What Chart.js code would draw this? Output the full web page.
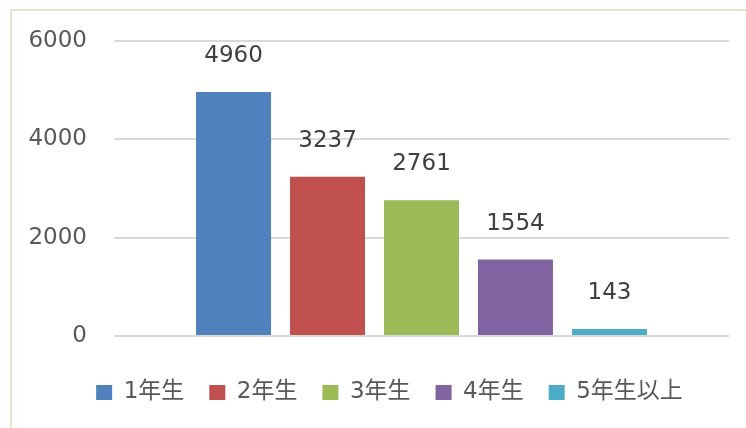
<!DOCTYPE html>
<html>
<head>
<meta charset="utf-8">
<script src="https://cdn.jsdelivr.net/npm/chart.js@4/dist/chart.umd.min.js"></script>
<style>
  html, body { margin: 0; padding: 0; background: #ffffff; overflow: hidden; width: 746px; height: 428px; }
  #frame { position: absolute; left: 10px; top: 9px; width: 800px; height: 500px;
           border-left: 2px solid #e8e1cb; border-top: 2px solid #e8e1cb; box-sizing: border-box; }
  #wrap { position: absolute; left: 0; top: 0; width: 746px; height: 428px; }
</style>
</head>
<body>
<div id="frame"></div>
<div id="wrap"><canvas id="c" width="746" height="428"></canvas></div>
<script>
const categories = ['1年生', '2年生', '3年生', '4年生', '5年生以上'];
const values = [4960, 3237, 2761, 1554, 143];
const colors = ['#4f81bd', '#c0504d', '#9bbb59', '#8064a2', '#4bacc6'];
const yTicks = [0, 2000, 4000, 6000];

const datasets = categories.map((name, i) => ({
  label: name,
  data: [values[i]],
  backgroundColor: colors[i],
  borderWidth: 0,
  categoryPercentage: 0.764,
  barPercentage: 0.798
}));

const valueLabels = {
  id: 'valueLabels',
  afterDatasetsDraw(chart) {
    const ctx = chart.ctx;
    ctx.save();
    ctx.font = '23px "DejaVu Sans"';
    ctx.fillStyle = '#404040';
    ctx.textAlign = 'center';
    ctx.textBaseline = 'middle';
    chart.data.datasets.forEach((ds, i) => {
      const el = chart.getDatasetMeta(i).data[0];
      ctx.fillText(String(ds.data[0]), el.x, el.y - 36);
    });
    ctx.restore();
  }
};

// shift the legend box to the right so it is centred like the original
const legendShift = {
  id: 'legendShift',
  afterLayout(chart) {
    const lg = chart.legend;
    if (lg) { lg.left += 25; lg.right += 25; }
  }
};

new Chart(document.getElementById('c'), {
  type: 'bar',
  data: { labels: [''], datasets },
  plugins: [valueLabels, legendShift],
  options: {
    responsive: false,
    animation: false,
    layout: { padding: { top: 40, right: 17, left: 0, bottom: 14 } },
    plugins: {
      title: { display: false },
      tooltip: { enabled: false },
      legend: {
        position: 'bottom',
        labels: {
          boxWidth: 16,
          boxHeight: 15,
          padding: 25,
          color: '#595959',
          font: { family: '"DejaVu Sans", "Noto Sans CJK JP"', size: 23 }
        }
      }
    },
    scales: {
      x: {
        display: true,
        grid: { display: false, drawTicks: false },
        border: { display: false },
        ticks: { display: false },
        afterFit(scale) { scale.height = 20; }
      },
      y: {
        min: 0, max: 6000,
        afterBuildTicks(scale) { scale.ticks = yTicks.map(v => ({ value: v })); },
        afterFit(scale) { scale.width = 114; },
        border: { display: false },
        grid: { color: '#d9d9d9', lineWidth: 2, drawTicks: false },
        ticks: {
          padding: 27,
          color: '#595959',
          font: { family: '"DejaVu Sans"', size: 23 },
          callback: (v) => String(v)
        }
      }
    }
  }
});
</script>
</body>
</html>
